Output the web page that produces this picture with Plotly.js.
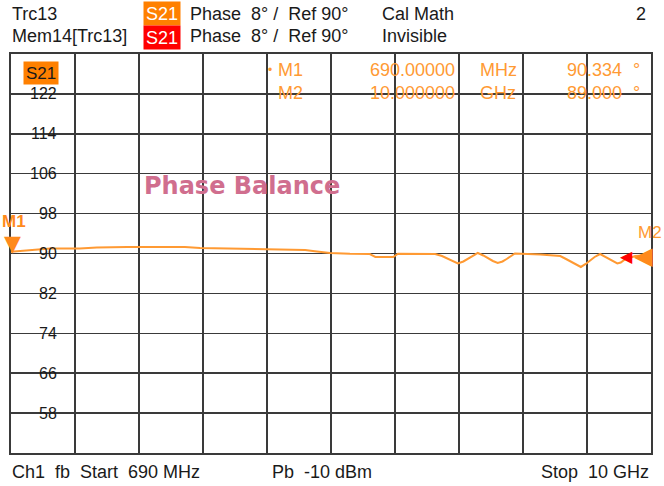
<!DOCTYPE html>
<html>
<head>
<meta charset="utf-8">
<script src="https://cdn.plot.ly/plotly-3.0.1.min.js"></script>
<style>html,body{margin:0;padding:0;background:#fff;}#chart{width:664px;height:486px;}</style>
</head>
<body>
<div id="chart"></div>
<script>
// ---- data ----
const freqGHz = [0.69, 0.82, 0.97, 1.26, 1.69, 1.94, 2.38, 2.71, 3.22, 3.44, 3.95, 4.39, 4.97, 5.11, 5.33, 5.62, 5.91, 5.99, 6.10, 6.25, 6.32, 6.64, 6.86, 6.96, 7.05, 7.12, 7.19, 7.27, 7.34, 7.41, 7.48, 7.56, 7.63, 7.70, 7.77, 7.84, 7.90, 8.02, 8.39, 8.68, 8.75, 8.82, 8.90, 8.98, 9.05, 9.11, 9.18, 9.26, 9.37, 9.44, 9.51, 9.56, 9.62, 9.77, 9.88, 10.0];
const phaseDeg = [90.33, 90.5, 90.6, 91.0, 91.0, 91.2, 91.3, 91.35, 91.3, 91.1, 91.0, 90.85, 90.7, 90.45, 90.1, 89.95, 89.9, 89.3, 89.25, 89.3, 89.95, 90.0, 89.9, 89.5, 88.9, 88.4, 88.0, 88.4, 89.0, 89.6, 90.1, 89.6, 89.0, 88.5, 88.1, 88.4, 88.9, 90.0, 89.8, 89.5, 89.0, 88.5, 87.8, 87.3, 87.9, 88.6, 89.3, 89.9, 89.0, 88.4, 88.0, 88.2, 88.8, 89.5, 89.6, 89.4];
const yTickVals = [58, 66, 74, 82, 90, 98, 106, 114, 122];
const yTickText = ["58", "66", "74", "82", "90", "98", "106", "114", "122"];
const markerNames = ["M1", "M2"];
const markerFreqGHz = [0.69, 10.0];
const markerPhase = [90.334, 89.4];
const markerFreqText = ["690.00000", "10.000000"];
const markerUnitText = ["MHz", "GHz"];
const markerPhaseText = ["90.334", "89.000"];

// ---- geometry helpers (layout only) ----
const W = 664, H = 486, ML = 11, MR = 13, MT = 54, MB = 33;
const PW = W - ML - MR, PH = H - MT - MB;
const px = p => (p - ML) / PW;
const py = p => 1 - (p - MT) / PH;
const FONT = "Liberation Sans, Arial, sans-serif";
const ORANGE = "#FF8A1C";
const TRACE = "#FF9A33";

const ann = [];
function txt(t, x, y, anchor, opts) {
  ann.push(Object.assign({
    text: t, xref: "paper", yref: "paper", x: px(x), y: py(y),
    xanchor: anchor, yanchor: "middle", showarrow: false, borderpad: 0,
    font: {family: FONT, size: 18, color: "#1a1a1a"}
  }, opts || {}));
}
const S = "\u00a0";
// header
txt("Trc13", 11, 14, "left");
txt("S21", 162, 13.5, "center", {bgcolor: "#FF8000", width: 36, height: 23, font: {family: FONT, size: 18, color: "#ffffff"}});
txt("Phase" + S + S + "8°" + S + "/" + S + S + "Ref" + S + "90°", 189, 14, "left");
txt("Cal" + S + "Math", 381, 14, "left");
txt("2", 647, 14, "right");
txt("Mem14[Trc13]", 11, 36, "left");
txt("S21", 162, 37, "center", {bgcolor: "#FF0000", width: 36, height: 23, font: {family: FONT, size: 18, color: "#ffffff"}});
txt("Phase" + S + S + "8°" + S + "/" + S + S + "Ref" + S + "90°", 189, 36, "left");
txt("Invisible", 381, 36, "left");
// footer
txt("Ch1" + S + S + "fb" + S + S + "Start" + S + S + "690" + S + "MHz", 11, 472, "left");
txt("Pb" + S + S + "-10" + S + "dBm", 271, 472, "left");
txt("Stop" + S + S + "10" + S + "GHz", 650, 472, "right");
// inner S21 label
txt("S21", 41, 73, "center", {bgcolor: "#FF8000", width: 34, height: 22, font: {family: FONT, size: 17, color: "#1a1a1a"}});
// title-like text
txt("Phase Balance", 143, 186, "left", {font: {family: "DejaVu Sans, sans-serif", size: 24, color: "#D06E8E", weight: "bold"}});
// marker table
const mo = {font: {family: FONT, size: 18, color: TRACE}};
txt("•", 270, 70, "center", {font: {family: FONT, size: 12, color: TRACE}});
markerNames.forEach((n, i) => {
  const cy = 70 + i * 23;
  txt(n, 277, cy, "left", mo);
  txt(markerFreqText[i], 456, cy, "right", mo);
  txt(markerUnitText[i], 479, cy, "left", mo);
  txt(markerPhaseText[i], 623, cy, "right", mo);
  txt("°", 632, cy, "left", mo);
});
// y tick labels (inside the plot)
yTickVals.forEach((v, i) => {
  ann.push({text: yTickText[i], xref: "paper", yref: "y", x: px(58), y: v, xanchor: "right", yanchor: "middle",
    showarrow: false, borderpad: 0, font: {family: FONT, size: 16, color: "#1a1a1a"}});
});
// marker symbols
ann.push({text: "▼", xref: "x", yref: "y", x: markerFreqGHz[0], y: markerPhase[0], xanchor: "center", yanchor: "middle",
  xshift: 1, yshift: 8, showarrow: false, font: {family: "DejaVu Sans", size: 22, color: ORANGE}});
ann.push({text: "M1", xref: "x", yref: "y", x: markerFreqGHz[0], y: markerPhase[0], xanchor: "left", yanchor: "middle",
  xshift: -10, yshift: 30, showarrow: false, borderpad: 0, font: {family: FONT, size: 17, color: ORANGE, weight: "bold"}});
ann.push({text: "◀", xref: "x", yref: "y", x: markerFreqGHz[1], y: markerPhase[1], xanchor: "center", yanchor: "middle",
  xshift: -25, yshift: 0, showarrow: false, font: {family: "DejaVu Sans", size: 16, color: "#FF0000"}});
ann.push({text: "◀", xref: "x", yref: "y", x: markerFreqGHz[1], y: markerPhase[1], xanchor: "center", yanchor: "middle",
  xshift: -8, yshift: 0, showarrow: false, font: {family: "DejaVu Sans", size: 24, color: ORANGE}});
ann.push({text: "M2", xref: "x", yref: "y", x: markerFreqGHz[1], y: markerPhase[1], xanchor: "right", yanchor: "middle",
  xshift: 12, yshift: 24, showarrow: false, borderpad: 0, font: {family: FONT, size: 17, color: TRACE}});

// white gaps in grid lines behind tick labels
const shapes = yTickVals.map((v, i) => {
  const w = yTickText[i].length * 8.7 + 8;
  return {type: "rect", layer: "between", xref: "paper", yref: "y", x0: px(60 - w), x1: px(60), y0: v - 0.6, y1: v + 0.6,
    fillcolor: "#ffffff", line: {width: 0}};
});

const trace = {x: freqGHz, y: phaseDeg, type: "scatter", mode: "lines", line: {color: TRACE, width: 2}, hoverinfo: "skip"};

const layout = {
  width: W, height: H, margin: {l: ML, r: MR, t: MT, b: MB, pad: 0},
  paper_bgcolor: "#ffffff", plot_bgcolor: "#ffffff", showlegend: false,
  xaxis: {range: [0.69, 10.0], tickmode: "linear", tick0: 0.69, dtick: (10.0 - 0.69) / 10, showticklabels: false, ticks: "",
    showgrid: true, gridcolor: "#3a3a3a", gridwidth: 1.5, zeroline: false, showline: true, mirror: true, linecolor: "#3a3a3a", linewidth: 2, fixedrange: true},
  yaxis: {range: [50, 130], tickmode: "linear", tick0: 50, dtick: 8, showticklabels: false, ticks: "",
    showgrid: true, gridcolor: "#3a3a3a", gridwidth: 1.5, zeroline: false, showline: true, mirror: true, linecolor: "#3a3a3a", linewidth: 2, fixedrange: true},
  annotations: ann, shapes: shapes
};
Plotly.newPlot("chart", [trace], layout, {staticPlot: true, displayModeBar: false});
</script>
</body>
</html>
